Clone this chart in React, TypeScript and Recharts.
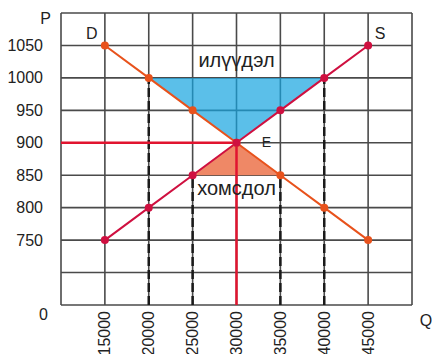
import {
  Area,
  CartesianGrid,
  ComposedChart,
  Line,
  ReferenceDot,
  ReferenceLine,
  XAxis,
  YAxis,
} from 'recharts';

const quantities = [15000, 20000, 25000, 30000, 35000, 40000, 45000];
const demandPrices = [1050, 1000, 950, 900, 850, 800, 750];
const supplyPrices = [750, 800, 850, 900, 950, 1000, 1050];

const xTicks = [10000, 15000, 20000, 25000, 30000, 35000, 40000, 45000, 50000];
const yTicks = [650, 700, 750, 800, 850, 900, 950, 1000, 1050, 1100];

// surplus (above equilibrium) and shortage (below) triangles as [low, high] bands
const surplusQ = [20000, 30000, 40000];
const surplusLow = [1000, 900, 1000];
const surplusHigh = [1000, 1000, 1000];
const shortageQ = [25000, 30000, 35000];
const shortageLow = [850, 850, 850];
const shortageHigh = [850, 900, 850];

const equilibrium = { q: 30000, p: 900 };
const dashedDrops = [
  { q: 20000, p: 1000 },
  { q: 25000, p: 850 },
  { q: 35000, p: 850 },
  { q: 40000, p: 1000 },
];

const demandData = quantities.map((q, i) => ({ q, p: demandPrices[i] }));
const supplyData = quantities.map((q, i) => ({ q, p: supplyPrices[i] }));
const surplusData = surplusQ.map((q, i) => ({ q, band: [surplusLow[i], surplusHigh[i]] }));
const shortageData = shortageQ.map((q, i) => ({ q, band: [shortageLow[i], shortageHigh[i]] }));

const FONT = '"Liberation Sans", Arial, sans-serif';
const TEXT = '#222';

function YTick({ y, payload }: { y?: number; payload?: { value: number } }) {
  const v = payload?.value;
  if (v === 700) return null;
  let label = String(v);
  let x = 43;
  let dy = 0;
  if (v === 1100) {
    label = 'P';
    x = 51;
    dy = 5;
  } else if (v === 650) {
    label = '0';
    x = 48;
    dy = 9;
  }
  return (
    <text
      x={x}
      y={(y ?? 0) + dy}
      textAnchor="end"
      dominantBaseline="central"
      fontSize={16}
      fontFamily={FONT}
      fill={TEXT}
    >
      {label}
    </text>
  );
}

function XTick({ x, payload }: { x?: number; payload?: { value: number } }) {
  const v = payload?.value;
  if (v === 10000 || v === 50000) return null;
  const top = 311;
  return (
    <text
      x={x}
      y={top}
      transform={`rotate(-90, ${x}, ${top})`}
      textAnchor="end"
      dominantBaseline="central"
      fontSize={16}
      fontFamily={FONT}
      fill={TEXT}
    >
      {v}
    </text>
  );
}

function tag(value: string, size: number) {
  return { value, position: 'center' as const, fontSize: size, fill: TEXT, fontFamily: FONT };
}

export default function App() {
  return (
    <div style={{ position: 'absolute', left: 0, top: 0, width: 432, height: 354, background: '#fff' }}>
      <ComposedChart
        width={432}
        height={354}
        margin={{ top: 13, right: 20, left: 0, bottom: 0 }}
      >
        <CartesianGrid stroke="#4a4a4a" strokeWidth={1.6} />
        <XAxis
          type="number"
          dataKey="q"
          domain={[10000, 50000]}
          ticks={xTicks}
          height={49}
          axisLine={false}
          tickLine={false}
          tick={<XTick />}
          interval={0}
        />
        <YAxis
          type="number"
          domain={[650, 1100]}
          ticks={yTicks}
          width={61}
          axisLine={false}
          tickLine={false}
          tick={<YTick />}
          interval={0}
        />
        <Area
          data={surplusData}
          dataKey="band"
          type="linear"
          stroke="none"
          fill="#15A4E0"
          fillOpacity={0.7}
          isAnimationActive={false}
        />
        <Area
          data={shortageData}
          dataKey="band"
          type="linear"
          stroke="none"
          fill="#EF8866"
          fillOpacity={1}
          isAnimationActive={false}
        />
        {dashedDrops.map((d) => (
          <ReferenceLine
            key={d.q}
            segment={[
              { x: d.q, y: 650 },
              { x: d.q, y: d.p },
            ]}
            stroke="#1a1a1a"
            strokeWidth={2.5}
            strokeDasharray="9 4"
          />
        ))}
        <ReferenceLine
          segment={[
            { x: 10000, y: equilibrium.p },
            { x: equilibrium.q, y: equilibrium.p },
          ]}
          stroke="#E1142F"
          strokeWidth={2.5}
        />
        <ReferenceLine
          segment={[
            { x: equilibrium.q, y: 650 },
            { x: equilibrium.q, y: equilibrium.p },
          ]}
          stroke="#E1142F"
          strokeWidth={2.5}
        />
        <Line
          data={demandData}
          dataKey="p"
          type="linear"
          stroke="#E8521C"
          strokeWidth={2}
          dot={{ r: 4, fill: '#E8521C', stroke: 'none' }}
          isAnimationActive={false}
        />
        <Line
          data={supplyData}
          dataKey="p"
          type="linear"
          stroke="#CF1040"
          strokeWidth={2}
          dot={{ r: 4, fill: '#CF1040', stroke: 'none' }}
          isAnimationActive={false}
        />
        <ReferenceDot x={13500} y={1069} r={0} stroke="none" fill="none" label={tag('D', 16)} />
        <ReferenceDot x={46350} y={1069} r={0} stroke="none" fill="none" label={tag('S', 16)} />
        <ReferenceDot x={33400} y={901} r={0} stroke="none" fill="none" label={tag('E', 14)} />
        <ReferenceDot x={30000} y={1028} r={0} stroke="none" fill="none" label={tag('илүүдэл', 20)} />
        <ReferenceDot x={30000} y={830} r={0} stroke="none" fill="none" label={tag('хомсдол', 20)} />
        <ReferenceDot
          x={51600}
          y={627}
          r={0}
          stroke="none"
          fill="none"
          ifOverflow="visible"
          label={tag('Q', 16)}
        />
      </ComposedChart>
    </div>
  );
}
